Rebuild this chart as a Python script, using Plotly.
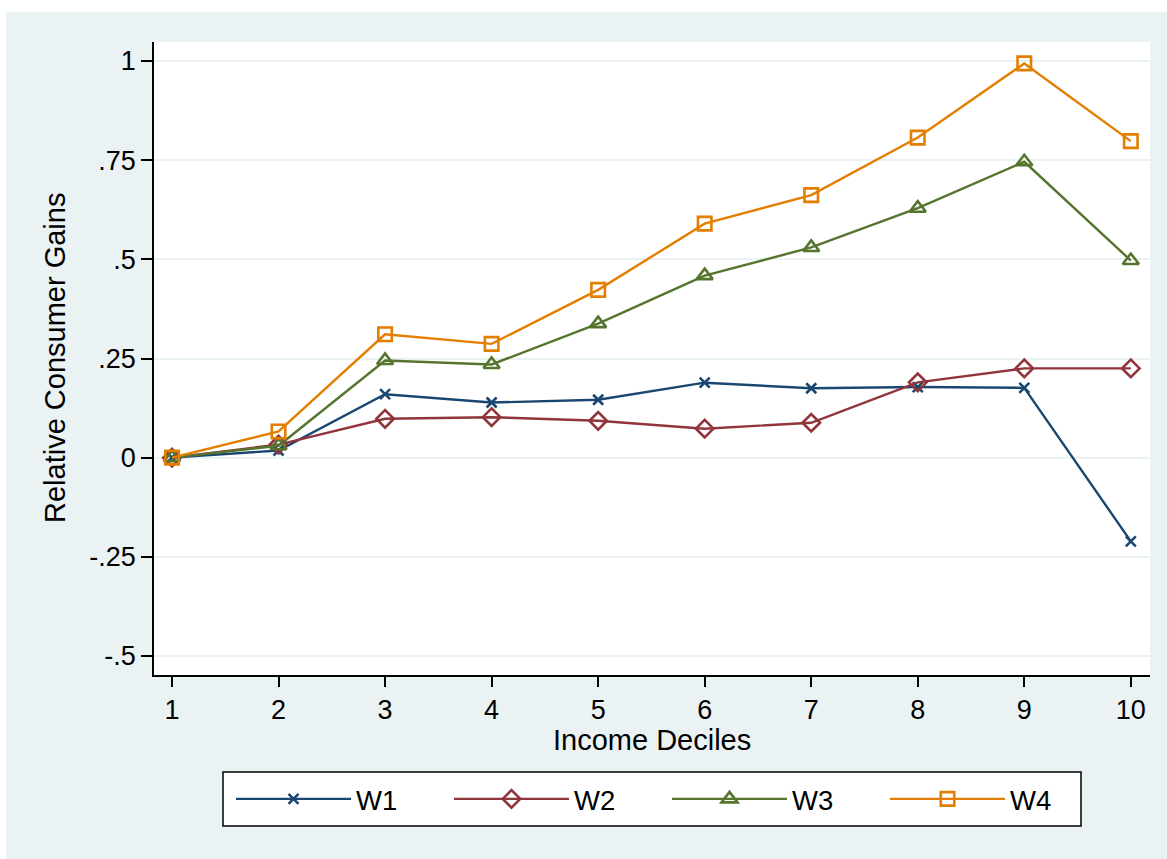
import plotly.graph_objects as go

# Income deciles and relative consumer gains per scenario
deciles = [1, 2, 3, 4, 5, 6, 7, 8, 9, 10]
w1 = [0.0, 0.018, 0.160, 0.139, 0.146, 0.189, 0.175, 0.178, 0.176, -0.211]
w2 = [0.0, 0.033, 0.098, 0.102, 0.093, 0.073, 0.088, 0.190, 0.225, 0.225]
w3 = [0.0, 0.030, 0.245, 0.235, 0.338, 0.459, 0.530, 0.629, 0.746, 0.497]
w4 = [0.0, 0.066, 0.311, 0.287, 0.423, 0.590, 0.662, 0.807, 0.994, 0.798]

series_names = ["W1", "W2", "W3", "W4"]
series_colors = ["#1A476F", "#90353B", "#55752F", "#E37E00"]
series_symbols = ["x-thin", "diamond-open", "triangle-up-open", "square-open"]
series_sizes = [10, 13.5, 14, 13.5]

y_tickvals = [-0.5, -0.25, 0, 0.25, 0.5, 0.75, 1]
y_ticktext = ["-.5", "-.25", "0", ".25", ".5", ".75", "1"]
x_tickvals = deciles
x_ticktext = [str(d) for d in deciles]

BG = "#EAF2F3"
FONT = "Liberation Sans, Arial, sans-serif"

# plot-area geometry in pixels
W, H = 1167, 859
L, R, T, B = 154, 17, 42, 184
PW, PH = W - L - R, H - T - B


def px_x(px):
    return (px - L) / PW


def px_y(py):
    return (H - B - py) / PH


fig = go.Figure()
for name, vals, col, sym, sz in zip(series_names, [w1, w2, w3, w4],
                                    series_colors, series_symbols, series_sizes):
    fig.add_trace(go.Scatter(
        x=deciles, y=vals, name=name, mode="lines+markers",
        line=dict(color=col, width=2.4),
        marker=dict(symbol=sym, size=sz, color=col,
                    line=dict(color=col, width=2.6)),
    ))

fig.update_layout(
    width=W, height=H,
    margin=dict(l=L, r=R, t=T, b=B),
    paper_bgcolor=BG, plot_bgcolor="white",
    font=dict(family=FONT, color="black", size=27),
    showlegend=True,
    legend=dict(
        orientation="h", x=px_x(667), xanchor="center", y=px_y(799),
        yanchor="middle", bgcolor="rgba(0,0,0,0)", borderwidth=0,
        font=dict(size=27.5), itemwidth=115, entrywidth=88,
        traceorder="normal",
    ),
    xaxis=dict(
        range=[0.831, 10.18], tickvals=x_tickvals, ticktext=x_ticktext,
        showgrid=False, zeroline=False, showline=True, linecolor="black",
        linewidth=1.5, ticks="outside", ticklen=10, tickwidth=1.5,
        tickcolor="black", tickfont=dict(size=27), automargin=False,
    ),
    yaxis=dict(
        range=[-0.548, 1.048], tickvals=y_tickvals, ticktext=y_ticktext,
        showgrid=True, gridcolor=BG, gridwidth=1.5, zeroline=False,
        showline=True, linecolor="black", linewidth=1.5, ticks="outside",
        ticklen=11, tickwidth=1.5, tickcolor="black", tickfont=dict(size=27),
        automargin=False,
    ),
    annotations=[
        dict(text="Relative Consumer Gains", xref="paper", yref="paper",
             x=px_x(55), y=px_y(358), xanchor="center", yanchor="middle",
             textangle=-90, showarrow=False, font=dict(size=29)),
        dict(text="Income Deciles", xref="paper", yref="paper",
             x=0.5, y=px_y(740), xanchor="center", yanchor="middle",
             showarrow=False, font=dict(size=29)),
    ],
    shapes=[
        # white page border along the top and left edges
        dict(type="rect", xref="paper", yref="paper", layer="below",
             x0=px_x(0), x1=px_x(W), y0=px_y(12), y1=px_y(0),
             fillcolor="white", line=dict(width=0)),
        dict(type="rect", xref="paper", yref="paper", layer="below",
             x0=px_x(0), x1=px_x(6), y0=px_y(H), y1=px_y(0),
             fillcolor="white", line=dict(width=0)),
        # legend frame
        dict(type="rect", xref="paper", yref="paper", layer="below",
             x0=px_x(223), x1=px_x(1081), y0=px_y(826), y1=px_y(772),
             fillcolor="white", line=dict(color="black", width=1.5)),
    ],
)

fig.write_html("out.html")
